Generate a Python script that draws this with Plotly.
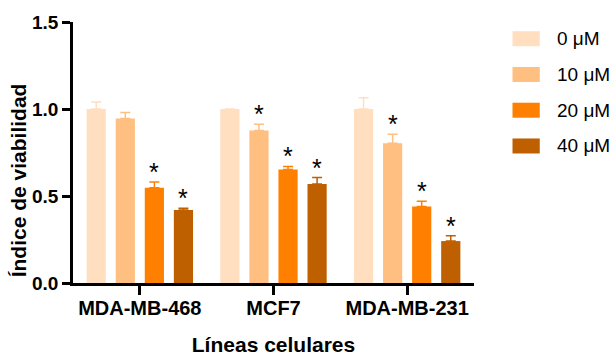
import plotly.graph_objects as go

# Cell lines and concentrations
lines = ["MDA-MB-468", "MCF7", "MDA-MB-231"]
doses = ["0 μM", "10 μM", "20 μM", "40 μM"]

# Viability index (mean) per dose, one value per cell line
v_0 = [1.00, 1.00, 1.00]
v_10 = [0.945, 0.876, 0.803]
v_20 = [0.548, 0.652, 0.440]
v_40 = [0.420, 0.569, 0.241]

# Upper error (SD) per dose
e_0 = [0.040, 0.0, 0.065]
e_10 = [0.035, 0.036, 0.052]
e_20 = [0.032, 0.018, 0.030]
e_40 = [0.010, 0.037, 0.031]

# Significance markers per dose
s_0 = [False, False, False]
s_10 = [False, True, True]
s_20 = [True, True, True]
s_40 = [True, True, True]

means = [v_0, v_10, v_20, v_40]
errs = [e_0, e_10, e_20, e_40]
sigs = [s_0, s_10, s_20, s_40]
colors = ["#FFDFC0", "#FFBF80", "#FF8000", "#BF6000"]

FONT = "Arial, Liberation Sans, sans-serif"
BARGAP = 0.13
GROUPGAP = 0.34

fig = go.Figure()
for name, m, e, c in zip(doses, means, errs, colors):
    fig.add_trace(go.Bar(
        x=lines, y=m, name=name,
        marker=dict(color=c, line=dict(width=0)),
        error_y=dict(type="data", symmetric=False, array=e,
                     arrayminus=[0] * len(e), color=c,
                     thickness=1.5, width=5),
        showlegend=False,
    ))

# Asterisks above the error bars of significant groups
slot = (1 - BARGAP) / len(doses)
for j, (m, e, s) in enumerate(zip(means, errs, sigs)):
    for i in range(len(lines)):
        if s[i]:
            fig.add_annotation(
                x=i + (j - (len(doses) - 1) / 2) * slot, y=m[i] + e[i],
                xref="x", yref="y", text="*", showarrow=False,
                yanchor="middle", yshift=10,
                font=dict(family=FONT, size=25, color="black"),
            )

# Legend drawn as swatches with labels to the right of the plot
lx0, lx1, ltxt = 1.096, 1.164, 1.202
ly_top, ly_step, sw_h = 0.936, 0.137, 0.0575
for k, (name, c) in enumerate(zip(doses, colors)):
    yc = ly_top - k * ly_step
    fig.add_shape(type="rect", xref="paper", yref="paper",
                  x0=lx0, x1=lx1, y0=yc - sw_h / 2, y1=yc + sw_h / 2,
                  fillcolor=c, line=dict(width=0))
    fig.add_annotation(xref="paper", yref="paper", x=ltxt, y=yc,
                       xanchor="left", yanchor="middle", text=name,
                       showarrow=False,
                       font=dict(family=FONT, size=19, color="black"))

# Y-axis title, set slightly below the vertical centre of the plot
fig.add_annotation(xref="paper", yref="paper", x=-0.135, y=0.393,
                   text="Índice de viabilidad", textangle=-90,
                   showarrow=False, xanchor="center", yanchor="middle",
                   font=dict(family=FONT, size=21, color="black", weight="bold"))

fig.update_layout(
    width=614, height=356,
    margin=dict(l=73, r=140, t=22, b=73),
    paper_bgcolor="white", plot_bgcolor="white",
    barmode="group", bargap=BARGAP, bargroupgap=GROUPGAP,
    font=dict(family=FONT, color="black"),
)
fig.update_xaxes(
    type="category", range=[-0.5, 2.5], automargin=False,
    showline=True, linecolor="black", linewidth=2.5,
    ticks="outside", ticklen=9, tickwidth=2.5, tickcolor="black",
    ticklabelstandoff=-4,
    tickfont=dict(family=FONT, size=20, weight="bold"),
    title=dict(text="Líneas celulares", standoff=29,
               font=dict(family=FONT, size=21, weight="bold")),
    showgrid=False,
)
fig.update_yaxes(
    range=[0, 1.5], automargin=False,
    tickvals=[0, 0.5, 1.0, 1.5], ticktext=["0.0", "0.5", "1.0", "1.5"],
    showline=True, linecolor="black", linewidth=2.5,
    ticks="outside", ticklen=8, tickwidth=2.5, tickcolor="black",
    tickfont=dict(family=FONT, size=19, weight="bold"),
    showgrid=False, zeroline=False,
)

fig.write_html("out.html")
